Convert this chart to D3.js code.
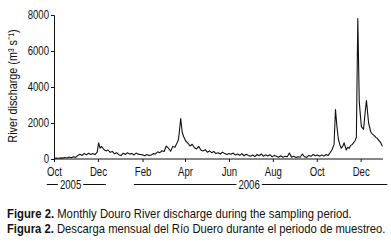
<!DOCTYPE html>
<html>
<head>
<meta charset="utf-8">
<script src="https://cdn.jsdelivr.net/npm/d3@7"></script>
<style>
  body { margin: 0; background: #fff; }
  text { font-family: "Liberation Sans", Arial, sans-serif; fill: #111; }
</style>
</head>
<body>
<svg width="391" height="251"></svg>
<script>

let discharge = [
  ['2005-10-01', 30], ['2005-10-04', 50], ['2005-10-07', 40], ['2005-10-10', 60],
  ['2005-10-13', 50], ['2005-10-16', 80], ['2005-10-19', 60], ['2005-10-22', 110],
  ['2005-10-25', 70], ['2005-10-28', 130], ['2005-10-31', 90],
  ['2005-11-03', 190], ['2005-11-06', 260], ['2005-11-09', 200], ['2005-11-12', 310],
  ['2005-11-15', 230], ['2005-11-18', 320], ['2005-11-21', 250], ['2005-11-24', 300],
  ['2005-11-27', 240], ['2005-11-30', 380],
  ['2005-12-02', 900], ['2005-12-04', 600], ['2005-12-06', 700], ['2005-12-09', 540],
  ['2005-12-12', 450], ['2005-12-15', 500], ['2005-12-18', 370], ['2005-12-21', 420],
  ['2005-12-24', 290], ['2005-12-27', 350], ['2005-12-30', 240],
  ['2006-01-02', 190], ['2006-01-05', 320], ['2006-01-08', 250], ['2006-01-11', 350],
  ['2006-01-14', 270], ['2006-01-17', 310], ['2006-01-20', 220], ['2006-01-23', 330],
  ['2006-01-26', 270], ['2006-01-29', 250],
  ['2006-02-01', 230], ['2006-02-04', 180], ['2006-02-07', 250], ['2006-02-10', 200],
  ['2006-02-13', 220], ['2006-02-16', 300], ['2006-02-19', 280], ['2006-02-22', 400],
  ['2006-02-25', 350], ['2006-02-28', 460],
  ['2006-03-03', 420], ['2006-03-06', 720], ['2006-03-09', 600], ['2006-03-12', 430],
  ['2006-03-15', 700], ['2006-03-18', 650], ['2006-03-21', 900], ['2006-03-23', 1100],
  ['2006-03-26', 2250], ['2006-03-28', 1500], ['2006-03-30', 1250],
  ['2006-04-02', 1000], ['2006-04-05', 880], ['2006-04-08', 720], ['2006-04-11', 820],
  ['2006-04-14', 620], ['2006-04-17', 560], ['2006-04-20', 700], ['2006-04-23', 500],
  ['2006-04-26', 450], ['2006-04-29', 520],
  ['2006-05-02', 380], ['2006-05-05', 450], ['2006-05-08', 350], ['2006-05-11', 420],
  ['2006-05-14', 300], ['2006-05-17', 350], ['2006-05-20', 280], ['2006-05-23', 380],
  ['2006-05-26', 300], ['2006-05-29', 250],
  ['2006-06-01', 300], ['2006-06-04', 260], ['2006-06-07', 330], ['2006-06-10', 220],
  ['2006-06-13', 280], ['2006-06-16', 200], ['2006-06-19', 300], ['2006-06-22', 180],
  ['2006-06-25', 260], ['2006-06-28', 200],
  ['2006-07-01', 150], ['2006-07-04', 220], ['2006-07-07', 130], ['2006-07-10', 250],
  ['2006-07-13', 180], ['2006-07-16', 280], ['2006-07-19', 150], ['2006-07-22', 230],
  ['2006-07-25', 170], ['2006-07-28', 240], ['2006-07-31', 120],
  ['2006-08-03', 200], ['2006-08-06', 150], ['2006-08-09', 100], ['2006-08-12', 180],
  ['2006-08-15', 90], ['2006-08-18', 150], ['2006-08-21', 120], ['2006-08-24', 330],
  ['2006-08-27', 100], ['2006-08-30', 160],
  ['2006-09-02', 80], ['2006-09-05', 130], ['2006-09-08', 100], ['2006-09-11', 280],
  ['2006-09-14', 120], ['2006-09-17', 90], ['2006-09-20', 200], ['2006-09-23', 150],
  ['2006-09-26', 250], ['2006-09-29', 180],
  ['2006-10-02', 220], ['2006-10-05', 150], ['2006-10-08', 230], ['2006-10-11', 160],
  ['2006-10-14', 250], ['2006-10-17', 200], ['2006-10-19', 320], ['2006-10-22', 500],
  ['2006-10-25', 800], ['2006-10-27', 2750], ['2006-10-29', 1800], ['2006-10-31', 1100],
  ['2006-11-02', 800], ['2006-11-04', 600], ['2006-11-06', 700], ['2006-11-08', 900],
  ['2006-11-11', 500], ['2006-11-13', 650], ['2006-11-15', 600], ['2006-11-17', 750],
  ['2006-11-19', 800], ['2006-11-21', 900], ['2006-11-23', 1000], ['2006-11-25', 1200],
  ['2006-11-27', 7800], ['2006-11-29', 3200], ['2006-11-30', 2700],
  ['2006-12-02', 1800], ['2006-12-05', 1650], ['2006-12-07', 2500], ['2006-12-09', 3250],
  ['2006-12-12', 2000], ['2006-12-15', 1500], ['2006-12-17', 1400], ['2006-12-20', 1300],
  ['2006-12-22', 1200], ['2006-12-24', 1150], ['2006-12-26', 1050], ['2006-12-29', 900],
  ['2006-12-31', 700]
];

let yTicks = [0, 2000, 4000, 6000, 8000];
let monthTicks = ['2005-10-01', '2005-12-01', '2006-02-01', '2006-04-01',
                  '2006-06-01', '2006-08-01', '2006-10-01', '2006-12-01'];
let years = [
  { label: '2005', from: '2005-09-21', to: '2005-12-12', at: '2005-10-24' },
  { label: '2006', from: '2006-01-20', to: '2007-01-07', at: '2006-06-29' }
];
let captions = [
  ['Figure 2.', ' Monthly Douro River discharge during the sampling period.'],
  ['Figura 2.', ' Descarga mensual del Río Duero durante el periodo de muestreo.']
];

let parse = d3.timeParse('%Y-%m-%d');
let data = discharge.map(function(d) { return { date: parse(d[0]), value: d[1] }; });

// the original uses a condensed face; squeeze regular Liberation Sans instead
let narrow = 0.8;

let svg = d3.select('svg');

let xScale = d3.scaleTime()
               .domain([parse('2005-10-01'), parse('2007-01-01')])
               .range([54, 383]);

let yScale = d3.scaleLinear()
               .domain([0, 8000])
               .range([159, 15]);

let xAxis = d3.axisBottom(xScale)
              .tickValues(monthTicks.map(parse))
              .tickFormat(d3.timeFormat('%b'))
              .tickSize(3)
              .tickPadding(5);

svg.append('g')
   .attr('id', 'xAxisG')
   .attr('transform', 'translate(0,159)')
   .call(xAxis);

let yAxis = d3.axisLeft(yScale)
              .tickValues(yTicks)
              .tickFormat(d3.format('d'))
              .tickSize(3)
              .tickPadding(2);

svg.append('g')
   .attr('id', 'yAxisG')
   .attr('transform', 'translate(54,0)')
   .call(yAxis);

svg.selectAll('.domain').attr('stroke', '#111');
svg.selectAll('.tick line').attr('stroke', '#111');
svg.selectAll('.tick text')
   .attr('font-size', 12)
   .style('font-family', '"Liberation Sans", Arial, sans-serif')
   .attr('fill', '#111')
   .attr('transform', 'scale(' + narrow + ',1)');
svg.selectAll('#yAxisG .tick text').attr('x', -5 / narrow);
svg.select('#xAxisG .domain').attr('d', 'M54,0H383');

let flowLine = d3.line()
                 .x(function(d) { return xScale(d.date); })
                 .y(function(d) { return yScale(d.value); });

svg.append('path')
   .attr('d', flowLine(data))
   .attr('fill', 'none')
   .attr('stroke', '#111')
   .attr('stroke-width', 1.1)
   .attr('stroke-linejoin', 'round');

svg.append('text')
   .attr('transform', 'translate(17,86) rotate(-90) scale(' + narrow + ',1)')
   .attr('text-anchor', 'middle')
   .attr('font-size', 13.5)
   .text('River discharge (m³ s⁻¹)');

// year brackets under the month labels
years.forEach(function(y) {
  let g = svg.append('g');
  let cx = xScale(parse(y.at));
  let t = g.append('text')
           .attr('transform', 'translate(' + cx + ',188.5) scale(' + narrow + ',1)')
           .attr('text-anchor', 'middle')
           .attr('font-size', 12)
           .text(y.label);
  let w = t.node().getComputedTextLength() * narrow / 2 + 2;
  g.append('line')
   .attr('x1', xScale(parse(y.from))).attr('x2', cx - w)
   .attr('y1', 184.5).attr('y2', 184.5)
   .attr('stroke', '#111');
  g.append('line')
   .attr('x1', cx + w).attr('x2', xScale(parse(y.to)))
   .attr('y1', 184.5).attr('y2', 184.5)
   .attr('stroke', '#111');
});

let captionWidth = [345, 379];
captions.forEach(function(c, i) {
  let t = svg.append('text')
             .attr('font-size', 12.5);
  t.append('tspan').attr('font-weight', 'bold').text(c[0]);
  t.append('tspan').text(c[1]);
  let k = captionWidth[i] / t.node().getComputedTextLength();
  t.attr('transform', 'translate(7,' + (218 + i * 15) + ') scale(' + k + ',1)');
});

</script>
</body>
</html>
